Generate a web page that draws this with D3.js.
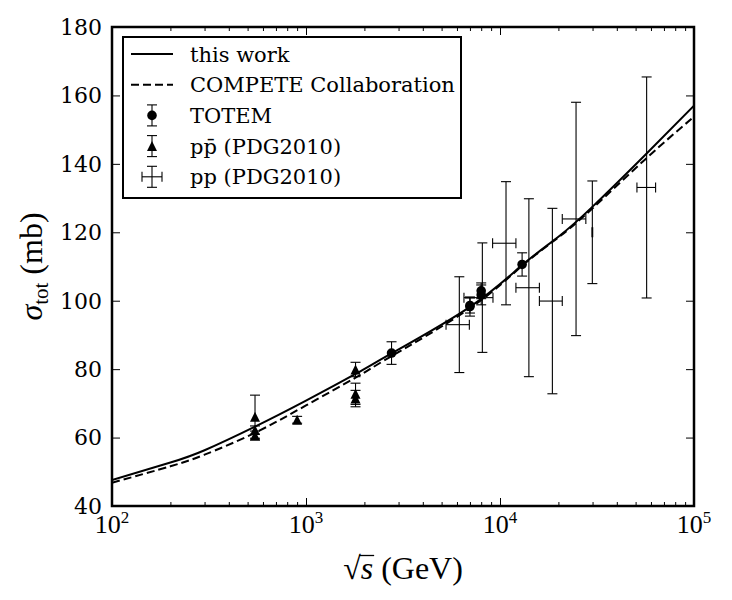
<!DOCTYPE html>
<meta charset="utf-8">
<style>
body { margin: 0; background: #fff; }
svg { display: block; }
.tick line { stroke: #000; stroke-width: 1px; }
</style>
<body>
<script src="https://d3js.org/d3.v7.min.js"></script>
<script>

var width = 732,
    height = 600;

// model curves (sqrt(s) in GeV, sigma in mb)
var curveEnergy = [100, 200, 300, 546, 1000, 1800, 2760, 7000, 13000, 20000, 30000, 56000, 100000];
var thisWork    = [47.6, 52.7, 56.3, 63.2, 70.8, 78.6, 84.6, 98.2, 110.4, 118.7, 127.5, 142.6, 157.0];
var compete     = [46.8, 51.6, 55.0, 61.4, 69.4, 77.5, 83.8, 97.8, 110.2, 118.5, 127.0, 141.3, 153.8];

// TOTEM
var totemEnergy = [2760, 7000, 7000, 8000, 8000, 13000];
var totemSigma  = [84.7, 98.3, 98.6, 101.7, 102.9, 110.6];
var totemError  = [3.3, 2.8, 2.2, 2.9, 2.3, 3.4];

// p pbar (PDG2010)
var ppbarEnergy = [546, 546, 546, 900, 1800, 1800, 1800];
var ppbarSigma  = [66.1, 62.2, 60.6, 65.2, 79.9, 72.8, 71.4];
var ppbarError  = [6.3, 1.2, 1.3, 1.0, 2.1, 3.1, 2.4];

// pp (PDG2010), cosmic rays
var ppEnergy = [6170, 8110, 10740, 14090, 18620, 24660, 29920, 57000];
var ppELow   = [5270, 6520, 9160, 12080, 15960, 20940, 29800, 50800];
var ppEHigh  = [6950, 9200, 12080, 15960, 20940, 27700, 30050, 63400];
var ppSigma  = [93.0, 100.9, 116.8, 103.8, 99.9, 123.9, 120.0, 133.1];
var ppError  = [14.0, 16.0, 18.0, 26.0, 27.1, 34.1, 15.0, 32.3];

var xMajor = [100, 1000, 10000, 100000];
var xExponent = ["2", "3", "4", "5"];
var yTicks = [40, 60, 80, 100, 120, 140, 160, 180];

var legendLabels = ["this work", "COMPETE Collaboration", "TOTEM", "pp\u0304 (PDG2010)", "pp (PDG2010)"];

var margin = {top: 27, right: 38, bottom: 94, left: 112};

var x = d3.scaleLog()
    .domain([100, 100000])
    .range([margin.left, width - margin.right]);

var y = d3.scaleLinear()
    .domain([40, 180])
    .range([height - margin.bottom, margin.top]);

var svg = d3.select("body").append("svg")
    .attr("width", width)
    .attr("height", height);

svg.append("clipPath").attr("id", "clip")
  .append("rect")
    .attr("x", x.range()[0])
    .attr("y", y.range()[1])
    .attr("width", x.range()[1] - x.range()[0])
    .attr("height", y.range()[0] - y.range()[1]);

var plot = svg.append("g").attr("clip-path", "url(#clip)");

// curves
var line = d3.line()
    .curve(d3.curveNatural)
    .x(function(d) { return x(d[0]); })
    .y(function(d) { return y(d[1]); });

plot.append("path")
    .datum(curveEnergy.map(function(e, i) { return [e, compete[i]]; }))
    .attr("d", line)
    .attr("fill", "none")
    .attr("stroke", "#000")
    .attr("stroke-width", 2)
    .attr("stroke-dasharray", "8,4");

plot.append("path")
    .datum(curveEnergy.map(function(e, i) { return [e, thisWork[i]]; }))
    .attr("d", line)
    .attr("fill", "none")
    .attr("stroke", "#000")
    .attr("stroke-width", 2);

var cap = 5;

function vbar(g, cx, y0, y1) {
  g.append("line").attr("x1", cx).attr("x2", cx).attr("y1", y0).attr("y2", y1);
  g.append("line").attr("x1", cx - cap).attr("x2", cx + cap).attr("y1", y0).attr("y2", y0);
  g.append("line").attr("x1", cx - cap).attr("x2", cx + cap).attr("y1", y1).attr("y2", y1);
}
function hbar(g, cy, x0, x1) {
  g.append("line").attr("x1", x0).attr("x2", x1).attr("y1", cy).attr("y2", cy);
  g.append("line").attr("x1", x0).attr("x2", x0).attr("y1", cy - cap).attr("y2", cy + cap);
  g.append("line").attr("x1", x1).attr("x2", x1).attr("y1", cy - cap).attr("y2", cy + cap);
}
var triangle = "M0,-5L-5,5L5,5Z";

var bars = plot.append("g").attr("stroke", "#000").attr("stroke-width", 1.1);

// pp error crosses
ppEnergy.forEach(function(e, i) {
  vbar(bars, x(e), y(ppSigma[i] + ppError[i]), y(ppSigma[i] - ppError[i]));
  hbar(bars, y(ppSigma[i]), x(ppELow[i]), x(ppEHigh[i]));
});

// p pbar
ppbarEnergy.forEach(function(e, i) {
  vbar(bars, x(e), y(ppbarSigma[i] + ppbarError[i]), y(ppbarSigma[i] - ppbarError[i]));
});
plot.append("g").selectAll("path")
    .data(ppbarEnergy)
  .enter().append("path")
    .attr("d", triangle)
    .attr("transform", function(d, i) { return "translate(" + x(d) + "," + y(ppbarSigma[i]) + ")"; })
    .attr("fill", "#000");

// TOTEM
totemEnergy.forEach(function(e, i) {
  vbar(bars, x(e), y(totemSigma[i] + totemError[i]), y(totemSigma[i] - totemError[i]));
});
plot.append("g").selectAll("circle")
    .data(totemEnergy)
  .enter().append("circle")
    .attr("cx", function(d) { return x(d); })
    .attr("cy", function(d, i) { return y(totemSigma[i]); })
    .attr("r", 4.8)
    .attr("fill", "#000");

// axes, ticks pointing inward on all four sides
var minor = x.ticks().filter(function(v) { return xMajor.indexOf(v) < 0; });

function tickAxis(axis, transform) {
  var g = svg.append("g").attr("transform", transform).call(axis);
  g.select(".domain").remove();
  g.selectAll("text").remove();
  return g;
}
tickAxis(d3.axisBottom(x).tickValues(xMajor).tickSize(-8), "translate(0," + y(40) + ")");
tickAxis(d3.axisBottom(x).tickValues(minor).tickSize(-4), "translate(0," + y(40) + ")");
tickAxis(d3.axisTop(x).tickValues(xMajor).tickSize(-8), "translate(0," + y(180) + ")");
tickAxis(d3.axisTop(x).tickValues(minor).tickSize(-4), "translate(0," + y(180) + ")");
tickAxis(d3.axisLeft(y).tickValues(yTicks).tickSize(-8), "translate(" + x(100) + ",0)");
tickAxis(d3.axisRight(y).tickValues(yTicks).tickSize(-8), "translate(" + x(100000) + ",0)");

svg.append("rect")
    .attr("x", x.range()[0])
    .attr("y", y.range()[1])
    .attr("width", x.range()[1] - x.range()[0])
    .attr("height", y.range()[0] - y.range()[1])
    .attr("fill", "none")
    .attr("stroke", "#000")
    .attr("stroke-width", 2.5);

// tick labels
svg.append("g").selectAll("text")
    .data(yTicks)
  .enter().append("text")
    .attr("x", x(100) - 10)
    .attr("y", function(d) { return y(d); })
    .attr("dy", "0.36em")
    .attr("text-anchor", "end")
    .style("font-family", "'DejaVu Serif', serif")
    .style("font-size", "22px")
    .text(function(d) { return d; });

var xl = svg.append("g").selectAll("text")
    .data(xMajor)
  .enter().append("text")
    .attr("x", function(d) { return x(d); })
    .attr("y", 533)
    .attr("text-anchor", "middle")
    .style("font-family", "'Liberation Serif', serif")
    .style("font-size", "26px")
    .text("10");
xl.append("tspan")
    .attr("dy", -10)
    .style("font-size", "17px")
    .text(function(d, i) { return xExponent[i]; });

// axis titles
var xt = svg.append("text")
    .attr("x", (x.range()[0] + x.range()[1]) / 2)
    .attr("y", 579)
    .attr("text-anchor", "middle")
    .style("font-family", "'Liberation Serif', serif")
    .style("font-size", "32px");
xt.append("tspan").text("\u221A");
xt.append("tspan").style("font-style", "italic").text("s");
xt.append("tspan").text(" (GeV)");
var r0 = xt.node().getExtentOfChar(0),
    r1 = xt.node().getExtentOfChar(1);
svg.append("line")
    .attr("x1", r0.x + r0.width - 1.5)
    .attr("x2", r1.x + r1.width + 1)
    .attr("y1", 579 - 23.5)
    .attr("y2", 579 - 23.5)
    .attr("stroke", "#000")
    .attr("stroke-width", 1.3);

var yt = svg.append("text")
    .attr("transform", "translate(42," + ((y.range()[0] + y.range()[1]) / 2) + ") rotate(-90)")
    .attr("text-anchor", "middle")
    .style("font-family", "'Liberation Serif', serif")
    .style("font-size", "32px");
yt.append("tspan").style("font-style", "italic").text("\u03C3");
yt.append("tspan").attr("dy", 6).style("font-size", "21px").text("tot");
yt.append("tspan").attr("dy", -6).text(" (mb)");

// legend
var legend = svg.append("g");
legend.append("rect")
    .attr("x", 123).attr("y", 37)
    .attr("width", 338).attr("height", 161)
    .attr("fill", "#fff")
    .attr("stroke", "#000")
    .attr("stroke-width", 2);

var rowY = function(i) { return 54 + i * 30.7; };
var lx0 = 131, lx1 = 173, lxc = 152;

legend.append("line").attr("x1", lx0).attr("x2", lx1).attr("y1", rowY(0)).attr("y2", rowY(0))
    .attr("stroke", "#000").attr("stroke-width", 2);
legend.append("line").attr("x1", lx0).attr("x2", lx1).attr("y1", rowY(1)).attr("y2", rowY(1))
    .attr("stroke", "#000").attr("stroke-width", 2).attr("stroke-dasharray", "8,4");

var lb = legend.append("g").attr("stroke", "#000").attr("stroke-width", 1.1);
vbar(lb, lxc, rowY(2) - 10.5, rowY(2) + 10.5);
legend.append("circle").attr("cx", lxc).attr("cy", rowY(2)).attr("r", 4.8).attr("fill", "#000");
vbar(lb, lxc, rowY(3) - 10.5, rowY(3) + 10.5);
legend.append("path").attr("d", triangle).attr("transform", "translate(" + lxc + "," + rowY(3) + ")").attr("fill", "#000");
vbar(lb, lxc, rowY(4) - 10.5, rowY(4) + 10.5);
hbar(lb, rowY(4), lxc - 10, lxc + 10);

legend.selectAll("text.lab")
    .data(legendLabels)
  .enter().append("text")
    .attr("class", "lab")
    .attr("x", 190)
    .attr("y", function(d, i) { return rowY(i); })
    .attr("dy", "0.36em")
    .style("font-family", "'DejaVu Serif', serif")
    .style("font-size", "21px")
    .text(function(d) { return d; });

</script>
